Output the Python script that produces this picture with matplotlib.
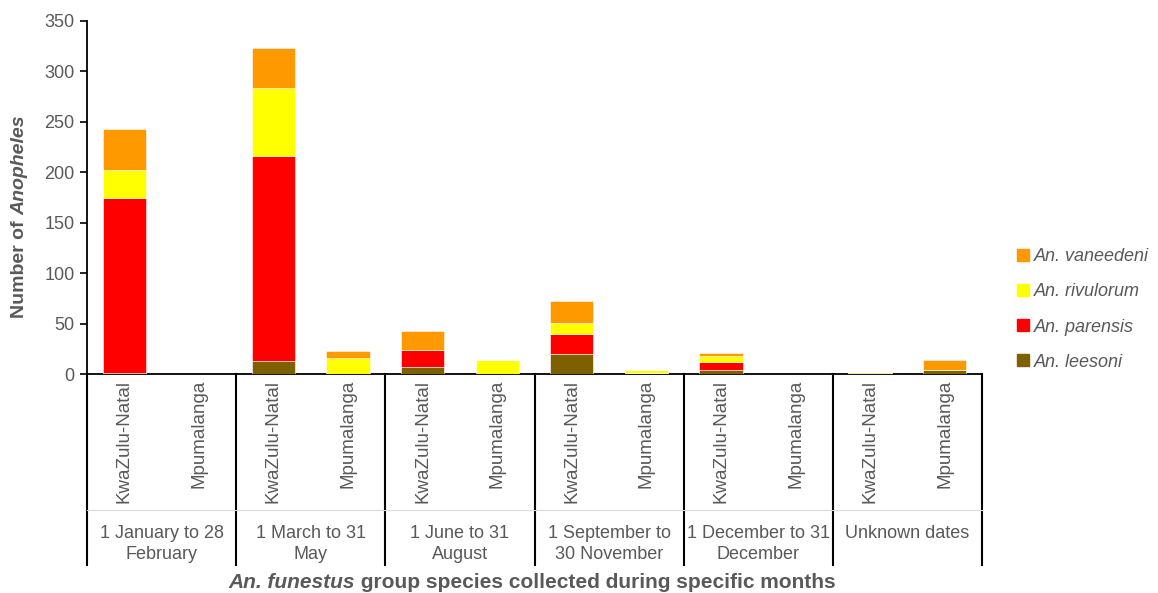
import matplotlib
matplotlib.use("Agg")
import matplotlib.pyplot as plt
from matplotlib.lines import Line2D
import numpy as np

plt.rcParams['font.family'] = ['Liberation Sans', 'DejaVu Sans']

regions = ['KwaZulu-Natal', 'Mpumalanga'] * 6
periods = ['1 January to 28\nFebruary', '1 March to 31\nMay', '1 June to 31\nAugust',
           '1 September to\n30 November', '1 December to 31\nDecember', 'Unknown dates']
species = ['An. leesoni', 'An. parensis', 'An. rivulorum', 'An. vaneedeni']
leesoni   = [1, 0, 13, 0, 7, 0, 20, 1, 4, 0, 0, 4]
parensis  = [174, 0, 203, 0, 17, 0, 20, 0, 8, 0, 1, 0]
rivulorum = [27, 0, 67, 16, 0, 14, 11, 3, 6, 0, 1, 0]
vaneedeni = [41, 0, 40, 7, 19, 0, 22, 0, 3, 0, 0, 10]
colors = ['#7F6000', '#FF0000', '#FFFF00', '#FF9900']
yticks = [0, 50, 100, 150, 200, 250, 300, 350]

gray = '#595959'
W, H = 1158, 593
fig = plt.figure(figsize=(W / 100, H / 100), dpi=100)
ax_l, ax_r, ax_t, ax_b = 87, 982, 20.7, 374.3
ax = fig.add_axes([ax_l / W, 1 - ax_b / H, (ax_r - ax_l) / W, (ax_b - ax_t) / H])
axh = ax_b - ax_t

x = np.arange(len(regions))
bottom = np.zeros(len(regions))
handles = []
for vals, c, lab in zip([leesoni, parensis, rivulorum, vaneedeni], colors, species):
    ax.bar(x, vals, width=0.58, bottom=bottom, color=c, edgecolor='#FFFFFF', linewidth=0.4, zorder=3)
    bottom += np.array(vals)
    handles.append(Line2D([], [], marker='s', color='none', markerfacecolor=c,
                          markeredgecolor=c, markersize=8.5, label=lab))

ax.set_xlim(-0.5, len(regions) - 0.5)
ax.set_ylim(0, 350)
ax.set_yticks(yticks)
ax.tick_params(axis='y', direction='out', length=5, width=1.2, colors='black',
               labelcolor=gray, labelsize=13, pad=4)
for s in ['top', 'right']:
    ax.spines[s].set_visible(False)
ax.spines['left'].set_linewidth(1.3)
ax.spines['bottom'].set_linewidth(1.3)

ax.set_xticks(x)
ax.set_xticklabels(regions, rotation=90, fontsize=13.5, color=gray, va='top', ha='center')
ax.tick_params(axis='x', length=0, pad=4)

trans = ax.get_xaxis_transform()
sep_bottom = -(565 - ax_b) / axh
hline_y = -(510 - ax_b) / axh
for b in np.arange(-0.5, len(regions), 2):
    ax.plot([b, b], [0, sep_bottom], transform=trans, color='black', lw=1.5, clip_on=False)
ax.plot([-0.5, len(regions) - 0.5], [hline_y, hline_y], transform=trans, color='#D9D9D9',
        lw=0.8, clip_on=False)
group_y = -(525 - ax_b) / axh
for i, p in enumerate(periods):
    ax.text(2 * i + 0.5, group_y, p, transform=trans, ha='center', va='top',
            fontsize=13, color=gray, linespacing=1.32)

leg = fig.legend(handles=handles[::-1], loc='center left', bbox_to_anchor=(1000 / W, 1 - 309.5 / H),
                 frameon=False, prop={'style': 'italic', 'size': 13}, labelcolor=gray,
                 handlelength=0.7, handletextpad=0.3, labelspacing=1.0)

# Mixed-style labels
fig.canvas.draw()
r = fig.canvas.get_renderer()

# y label: "Number of " bold + "Anopheles" bold italic, rotated
yl_x = 20 / W
t1 = fig.text(yl_x, 1 - 318 / H, 'Number of ', rotation=90, fontsize=14, fontweight='bold',
              color=gray, ha='center', va='bottom')
bb = t1.get_window_extent(r)
fig.text(yl_x, bb.y1 / H, 'Anopheles', rotation=90, fontsize=14, fontweight='bold',
         fontstyle='italic', color=gray, ha='center', va='bottom')

# x label
xl_y = 1 - 582 / H
a1 = fig.text(0.0, xl_y, 'An. funestus', fontsize=15, fontweight='bold', fontstyle='italic',
              color=gray, ha='left', va='center')
a2 = fig.text(0.0, xl_y, ' group species collected during specific months', fontsize=15,
              fontweight='bold', color=gray, ha='left', va='center')
w1 = a1.get_window_extent(r).width
w2 = a2.get_window_extent(r).width
cx = 532
start = cx - (w1 + w2) / 2
a1.set_x(start / W)
a2.set_x((start + w1) / W)

fig.savefig('out.png', dpi=100)
